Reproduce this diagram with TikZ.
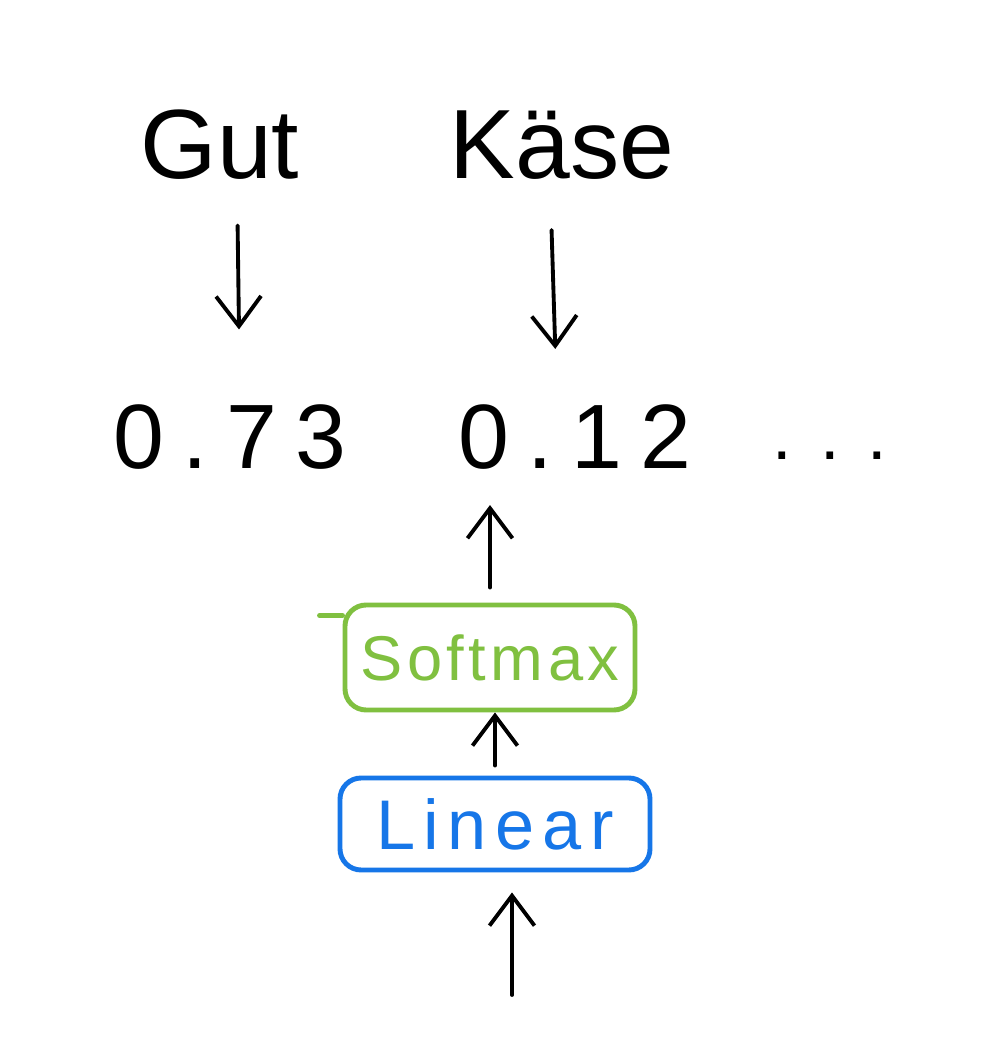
\documentclass[tikz,border=0pt]{standalone}
\usepackage{fontspec}
\setmainfont{Liberation Sans}
\usetikzlibrary{arrows.meta,positioning}
\definecolor{smgreen}{RGB}{128,192,64}
\definecolor{linblue}{RGB}{22,118,232}
\tikzset{
  word/.style={inner sep=0pt,font=\fontsize{28}{30}\selectfont},
  prob/.style={inner sep=0pt,font=\fontsize{26}{28}\selectfont\addfontfeature{LetterSpace=20}},
  layer/.style={draw,line width=1.4pt,rounded corners=6pt,inner sep=0pt},
  arr/.style={line width=1.1pt,line cap=round,-{Straight Barb[length=3mm,width=4.5mm]}},
}
\begin{document}
\begin{tikzpicture}
    \fill[white] (0,0) rectangle (10,10.45);
    \useasboundingbox (0,0) rectangle (10,10.45);
    % output words
    \node[word] (gut) at (2.2,9.0) {Gut};
    \node[word] (kaese) at (5.62,9.0) {Käse};
    % probabilities
    \node[prob] (v73) at (2.3,6.075) {0.73};
    \node[prob] (v12) at (5.75,6.08) {0.12};
    \node[prob,anchor=base,font=\fontsize{20}{22}\selectfont\addfontfeature{LetterSpace=40}] (rest) at (8.3,5.85) {...};
    % layers
    \node[layer,draw=smgreen,text=smgreen,minimum width=2.9cm,minimum height=1.05cm,
      font=\fontsize{18}{20}\selectfont\addfontfeature{LetterSpace=7}] (sm) at (4.9,3.875) {Softmax};
    \node[layer,draw=linblue,text=linblue,minimum width=3.1cm,minimum height=0.92cm,
      font=\fontsize{20}{22}\selectfont\addfontfeature{LetterSpace=12}] (lin) at (4.95,2.21) {Linear};
    \draw[smgreen,line width=1.4pt,line cap=round] ([yshift=-1.3mm]sm.north west) -- ++(-2.3mm,0);
    \coordinate (in) at (5.12,0.5);
    % arrows
    \draw[arr,shorten <=4.5mm,shorten >=7.5mm] ([xshift=1.7mm]gut.south) -- ([xshift=1mm]v73.north);
    \draw[arr,shorten <=5mm,shorten >=5.5mm] ([xshift=-1.2mm]kaese.south) -- ([xshift=-1.8mm]v12.north);
    \draw[arr,shorten <=1.5mm,shorten >=3.5mm] (sm.north) -- (sm.north |- v12.south);
    \draw[arr,shorten <=1mm] (lin.north) -- (lin.north |- sm.south);
    \draw[arr,shorten >=2mm] (in) -- (in |- lin.south);
  \end{tikzpicture}
\end{document}
